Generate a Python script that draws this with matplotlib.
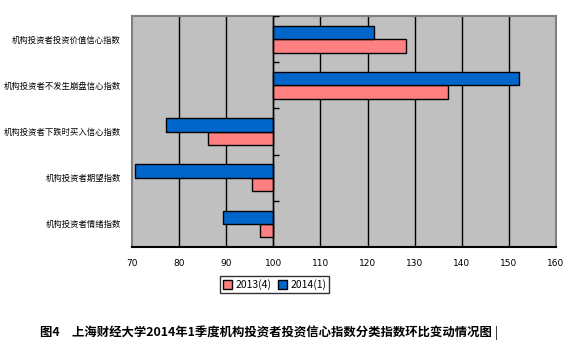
import numpy as np
import matplotlib.pyplot as plt

plt.rcParams['font.family'] = ['Noto Sans CJK SC', 'DejaVu Sans']

# data (bottom -> top, as Excel draws it)
categories = ['机构投资者情绪指数', '机构投资者期望指数', '机构投资者下跌时买入信心指数',
              '机构投资者不发生崩盘信心指数', '机构投资者投资价值信心指数']
q2013_4 = [97.1, 95.5, 86.2, 137.1, 128.2]
q2014_1 = [89.4, 70.7, 77.3, 152.2, 121.3]
xticks = [70, 80, 90, 100, 110, 120, 130, 140, 150, 160]
base = 100

fig = plt.figure(figsize=(5.67, 3.42), dpi=100)
ax = fig.add_axes([0.2328, 0.2778, 0.9806 - 0.2328, 0.953 - 0.2778])
ax.set_facecolor('#C0C0C0')

y = np.arange(len(categories))
h = 0.29
ax.barh(y - h / 2, np.array(q2013_4) - base, left=base, height=h,
        color='#FF8080', edgecolor='black', linewidth=1, label='2013(4)', zorder=3)
ax.barh(y + h / 2, np.array(q2014_1) - base, left=base, height=h,
        color='#0066CC', edgecolor='black', linewidth=1, label='2014(1)', zorder=3)

ax.set_xlim(70, 160)
ax.set_ylim(-0.5, len(categories) - 0.5)
ax.set_xticks(xticks)
ax.set_xticklabels([str(t) for t in xticks], fontsize=6.5, family='DejaVu Sans')
ax.set_yticks(y)
ax.set_yticklabels(categories, fontsize=6)
ax.tick_params(axis='both', length=0)
ax.tick_params(axis='x', pad=9)
ax.tick_params(axis='y', pad=8)

for t in xticks[1:-1]:
    ax.axvline(t, color='black', linewidth=1, zorder=1)
ax.axvline(base, color='black', linewidth=1, zorder=4)
ax.hlines(np.arange(len(categories) + 1) - 0.5, base, base + 1.2,
          color='black', linewidth=1, zorder=4)

for s in ['top', 'left', 'right']:
    ax.spines[s].set_color('#808080')
    ax.spines[s].set_linewidth(1.5)
ax.spines['bottom'].set_color('black')
ax.spines['bottom'].set_linewidth(1.5)

leg = fig.legend(loc='center', bbox_to_anchor=(0.484, 0.167), ncol=2, fontsize=7.5,
                 frameon=True, fancybox=False, edgecolor='black', handlelength=0.9,
                 handleheight=0.9, handletextpad=0.3, columnspacing=0.6,
                 borderpad=0.3, borderaxespad=0)
leg.get_frame().set_linewidth(1)

fig.text(0.071, 0.026, '图4　上海财经大学2014年1季度机构投资者投资信心指数分类指数环比变动情况图',
         fontsize=8.9, fontweight='bold', va='center', ha='left')
fig.text(0.872, 0.026, '|', fontsize=9, va='center', ha='left')

fig.savefig('out.png', dpi=100)
